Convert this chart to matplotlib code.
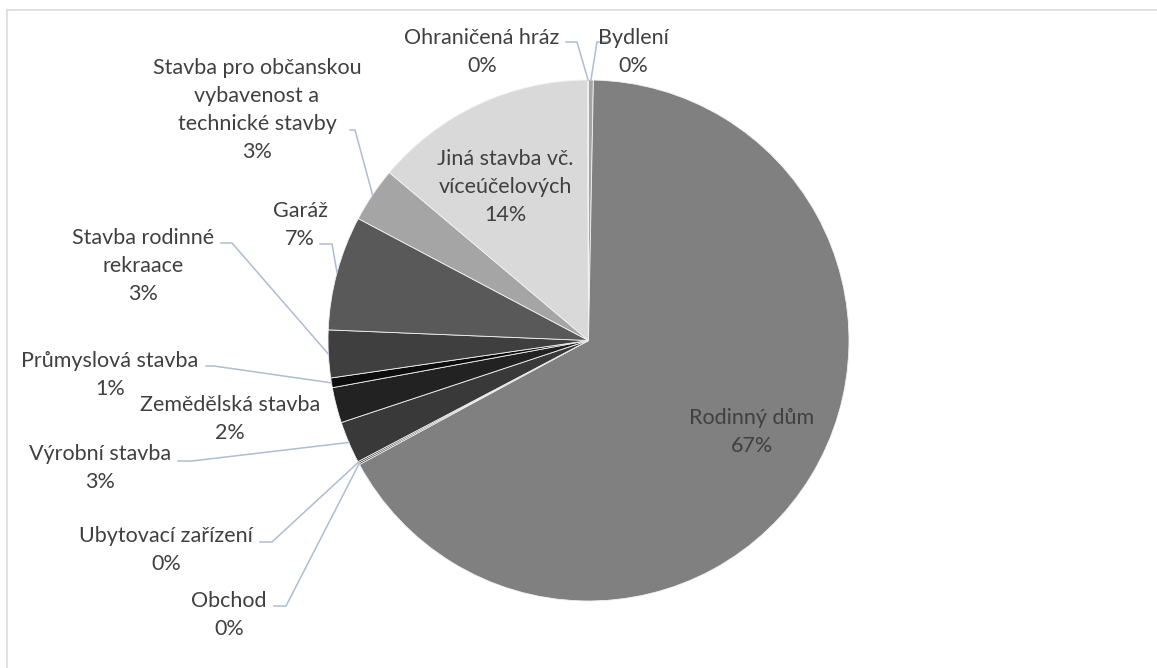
import matplotlib
matplotlib.use("Agg")
import numpy as np
import matplotlib.pyplot as plt
from matplotlib.patches import Rectangle

plt.rcParams['font.family'] = ['Lato', 'DejaVu Sans']

# data (percent of total), clockwise from 12 o'clock
kategorie = ["Bydlení", "Rodinný dům", "Obchod", "Ubytovací zařízení", "Výrobní stavba",
             "Zemědělská stavba", "Průmyslová stavba", "Stavba rodinné rekreace", "Garáž",
             "Stavba pro občanskou vybavenost a technické stavby",
             "Jiná stavba vč. víceúčelových", "Ohraničená hráz"]
hodnoty = [0.3, 66.8, 0.1, 0.1, 2.6, 2.2, 0.6, 2.95, 7.1, 3.4, 13.8, 0.05]
popisky = ["Bydlení", "Rodinný dům", "Obchod", "Ubytovací zařízení", "Výrobní stavba",
           "Zemědělská stavba", "Průmyslová stavba", "Stavba rodinné\nrekraace", "Garáž",
           "Stavba pro občanskou\nvybavenost a\ntechnické stavby",
           "Jiná stavba vč.\nvíceúčelových", "Ohraničená hráz"]
barvy = ["#a6a6a6", "#808080", "#262626", "#1a1a1a", "#393939", "#222222", "#0d0d0d",
         "#3f3f3f", "#595959", "#a5a5a5", "#d9d9d9", "#bfbfbf"]

W, H = 1157, 668
# label layout in pixels: text centre, leader elbow (x1, x2, y) or None
pozice_textu = [(633, 52), (752, 432), (229, 615), (166, 550), (100, 468), (230, 419),
                (110, 375), (143, 266), (300, 225), (257, 110), (505, 187), (482, 52)]
lomy = [(608, 597, 42), None, (274, 286, 606), (260, 272, 542), (178, 192, 461), None,
        (206, 214, 366), (221, 232, 243), (320, 332, 244), (350, 355, 130), None,
        (566, 577, 42)]

stred = (588.5, H - 340.5)
polomer = 260.5

fig = plt.figure(figsize=(W / 100, H / 100), dpi=100)
ax = fig.add_axes([0, 0, 1, 1])
ax.axis('off')

wedges, _ = ax.pie(hodnoty, colors=barvy, startangle=90, counterclock=False,
                   center=stred, radius=polomer, normalize=True,
                   wedgeprops=dict(edgecolor='#f2f2f2', linewidth=0.6))
ax.set_xlim(0, W)
ax.set_ylim(0, H)
ax.set_aspect('equal')

celkem = sum(hodnoty)
for i, w in enumerate(wedges):
    pct = round(hodnoty[i] / celkem * 100)
    tx, ty = pozice_textu[i]
    ax.text(tx, H - ty, f"{popisky[i]}\n{pct}%", ha='center', va='center',
            fontsize=15.5, color='#404040', linespacing=1.5)
    if lomy[i] is not None:
        uhel = np.deg2rad((w.theta1 + w.theta2) / 2)
        kx = stred[0] + polomer * np.cos(uhel)
        ky = stred[1] + polomer * np.sin(uhel)
        x1, x2, ly = lomy[i]
        ax.plot([x1, x2, kx], [H - ly, H - ly, ky], color='#adbdd2', lw=1.1,
                solid_joinstyle='miter')

# chart frame (only top and left edges fall inside the image)
ax.add_patch(Rectangle((7, -20), W + 20, H - 10 + 20, fill=False,
                       edgecolor='#d9dce1', lw=1.2, clip_on=False))

fig.savefig("out.png", dpi=100)
